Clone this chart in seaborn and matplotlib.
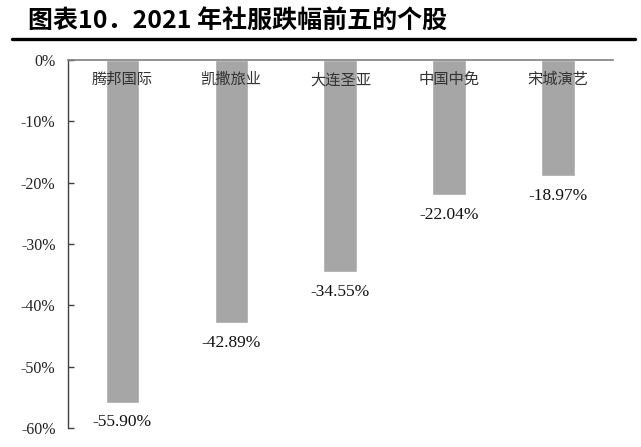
import matplotlib
matplotlib.use("Agg")
import matplotlib.pyplot as plt
from matplotlib.lines import Line2D
from matplotlib.ticker import FuncFormatter
import pandas as pd
import seaborn as sns

sns.set_theme(style="white")
plt.rcParams['font.family'] = ['Liberation Serif', 'Noto Sans CJK SC', 'DejaVu Sans']

# -- Data -- #
stocks = ["腾邦国际", "凯撒旅业", "大连圣亚", "中国中免", "宋城演艺"]
changes = [-55.90, -42.89, -34.55, -22.04, -18.97]
y_ticks = [0, -10, -20, -30, -40, -50, -60]

df = pd.DataFrame({"stock": stocks, "change": changes})

fig = plt.figure(figsize=(6.41, 4.47), dpi=100)
ax = fig.add_axes([0.106, 0.0425, 0.850, 0.8233])

sns.barplot(data=df, x="stock", y="change", color="#A6A6A6", saturation=1,
            width=0.31, ax=ax)

ax.set_xlim(-0.5, 4.5)
ax.set_ylim(-60, 0)
ax.set_yticks(y_ticks)
ax.yaxis.set_major_formatter(FuncFormatter(lambda v, p: f"{v:.0f}%"))
ax.set_xlabel("")
ax.set_ylabel("")
ax.set_xticks([])

# spines: zero line at top, left axis only
ax.spines.right.set_visible(False)
ax.spines.bottom.set_visible(False)
ax.spines.top.set_color("#808080")
ax.spines.left.set_color("#404040")
ax.spines.top.set_linewidth(1.2)
ax.spines.left.set_linewidth(1.0)
ax.tick_params(axis="y", left=True, direction="in", length=4, width=1,
               color="#404040", labelsize=11.5, labelcolor="#222222", pad=9)

# category names inside the plot near the zero line
for i, name in enumerate(stocks):
    ax.text(i, -3.2, name, ha="center", va="center", fontsize=11,
            family=["Noto Sans CJK SC"], color="#333333")

# value labels under the bars
for i, v in enumerate(changes):
    ax.text(i, v - 3.2, f"{v:.2f}%", ha="center", va="center", fontsize=12.5,
            color="#111111")

# title and thick rule
fig.text(28 / 641, 1 - 22 / 447, "图表10．2021 年社服跌幅前五的个股",
         ha="left", va="center", fontsize=18, fontweight="bold",
         family=["Noto Sans CJK SC", "DejaVu Sans"], color="black")
fig.add_artist(Line2D([12 / 641, 635 / 641], [1 - 39 / 447, 1 - 39 / 447],
                      color="black", linewidth=2.4, transform=fig.transFigure))

fig.savefig("out.png", dpi=100)
plt.close()
